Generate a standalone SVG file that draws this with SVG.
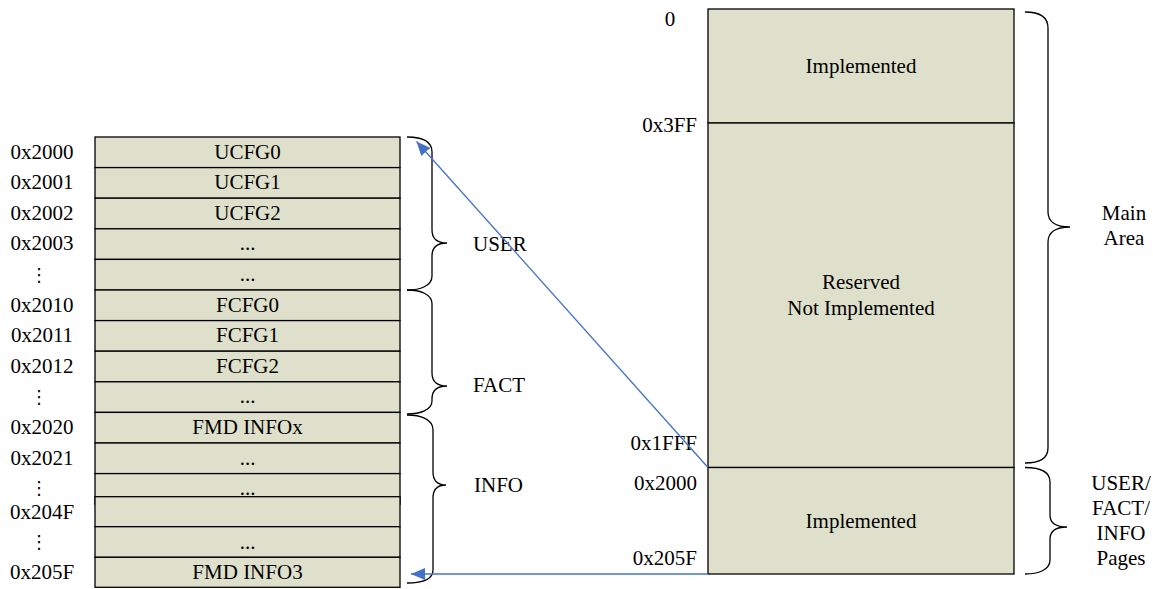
<svg xmlns="http://www.w3.org/2000/svg" width="1153" height="589" viewBox="0 0 1153 589">
<style>
.cell{fill:#DEE0CB;stroke:#000;stroke-width:1.3}
.t{font-family:"Liberation Serif","Times New Roman",serif;font-size:21px;fill:#000}
.m{text-anchor:middle}
.e{text-anchor:end}
.vd{font-family:"DejaVu Serif","DejaVu Sans",serif;font-size:18px;fill:#000;text-anchor:middle}
.brace{fill:none;stroke:#000;stroke-width:1.3}
.conn{fill:none;stroke:#4472C4;stroke-width:1.3}
</style>
<defs>
<marker id="ah" markerUnits="userSpaceOnUse" markerWidth="16" markerHeight="12" refX="14" refY="6" orient="auto">
<path d="M0,0 L14,6 L0,12 Z" fill="#4472C4"/>
</marker>
</defs>

<!-- Left table -->
<g id="row-ucfg0"><rect class="cell" x="95" y="137" width="305" height="30.6"/><text class="t m" x="247.5" y="158.5">UCFG0</text><text class="t m" x="42" y="158.5">0x2000</text></g>
<g id="row-ucfg1"><rect class="cell" x="95" y="167.6" width="305" height="30.6"/><text class="t m" x="247.5" y="189.1">UCFG1</text><text class="t m" x="42" y="189.1">0x2001</text></g>
<g id="row-ucfg2"><rect class="cell" x="95" y="198.2" width="305" height="30.6"/><text class="t m" x="247.5" y="219.7">UCFG2</text><text class="t m" x="42" y="219.7">0x2002</text></g>
<g id="row-user-a"><rect class="cell" x="95" y="228.8" width="305" height="30.6"/><text class="t m" x="247.5" y="250.3">...</text><text class="t m" x="42" y="250.3">0x2003</text></g>
<g id="row-user-b"><rect class="cell" x="95" y="259.4" width="305" height="30.6"/><text class="t m" x="247.5" y="280.9">...</text><text class="vd" x="39" y="281">⋮</text></g>
<g id="row-fcfg0"><rect class="cell" x="95" y="290" width="305" height="30.6"/><text class="t m" x="247.5" y="311.5">FCFG0</text><text class="t m" x="42" y="311.5">0x2010</text></g>
<g id="row-fcfg1"><rect class="cell" x="95" y="320.6" width="305" height="30.6"/><text class="t m" x="247.5" y="342.1">FCFG1</text><text class="t m" x="42" y="342.1">0x2011</text></g>
<g id="row-fcfg2"><rect class="cell" x="95" y="351.2" width="305" height="30.6"/><text class="t m" x="247.5" y="372.7">FCFG2</text><text class="t m" x="42" y="372.7">0x2012</text></g>
<g id="row-fact-a"><rect class="cell" x="95" y="381.8" width="305" height="30.6"/><text class="t m" x="247.5" y="403.3">...</text><text class="vd" x="39" y="403">⋮</text></g>
<g id="row-infox"><rect class="cell" x="95" y="412.4" width="305" height="30.6"/><text class="t m" x="247.5" y="433.9">FMD INFOx</text><text class="t m" x="42" y="433.9">0x2020</text></g>
<g id="row-info-a"><rect class="cell" x="95" y="443" width="305" height="30.6"/><text class="t m" x="247.5" y="464.5">...</text><text class="t m" x="42" y="464.5">0x2021</text></g>
<g id="row-info-b"><rect class="cell" x="95" y="473.6" width="305" height="30.6"/><text class="t m" x="247.5" y="495">...</text><text class="vd" x="39" y="494">⋮</text></g>
<g id="row-info-c"><rect class="cell" x="95" y="496.7" width="305" height="30"/><text class="t m" x="42" y="518.5">0x204F</text></g>
<g id="row-info-d"><rect class="cell" x="95" y="526.7" width="305" height="30.6"/><text class="t m" x="247.5" y="548.5">...</text><text class="vd" x="39" y="548">⋮</text></g>
<g id="row-info3"><rect class="cell" x="95" y="557.3" width="305" height="30"/><text class="t m" x="247.5" y="578.5">FMD INFO3</text><text class="t m" x="42" y="578.5">0x205F</text></g>

<!-- Left braces and labels -->
<g id="brace-user">
<path class="brace" d="M407,137 C420,137 432,140 432,152 L432,230 C432,238 436,243 447,243 C436,243 432,248 432,256 L432,276 C432,286 420,290 407,290"/>
<text class="t" x="473" y="250.5">USER</text>
</g>
<g id="brace-fact">
<path class="brace" d="M407,290 C420,290 432,294 432,304 L432,373 C432,381 436,386 447,386 C436,386 432,391 432,399 L432,401 C432,410 420,414 407,414"/>
<text class="t" x="473" y="392">FACT</text>
</g>
<g id="brace-info">
<path class="brace" d="M407,415 C420,415 433,419 433,430 L433,472 C433,480 437,485 446,485 C437,485 433,490 433,498 L433,570 C433,580 420,583 407,583"/>
<text class="t" x="474" y="491.5">INFO</text>
</g>

<!-- Right memory map -->
<g id="main-implemented"><rect class="cell" x="708" y="9" width="306" height="114"/><text class="t m" x="861" y="73">Implemented</text></g>
<g id="main-reserved"><rect class="cell" x="708" y="123" width="306" height="344.5"/><text class="t m" x="861" y="289">Reserved</text><text class="t m" x="861" y="315">Not Implemented</text></g>
<g id="pages-implemented"><rect class="cell" x="708" y="467.5" width="306" height="106.5"/><text class="t m" x="861" y="528">Implemented</text></g>

<g id="addr-labels">
<text class="t m" x="670" y="26">0</text>
<text class="t e" x="697" y="132">0x3FF</text>
<text class="t e" x="697" y="450">0x1FFF</text>
<text class="t e" x="697" y="490">0x2000</text>
<text class="t e" x="697" y="565">0x205F</text>
</g>

<g id="brace-main">
<path class="brace" d="M1025,12 C1038,12 1048,16 1048,28 L1048,212 C1048,221 1055,227 1070,227 C1055,227 1048,233 1048,242 L1048,448 C1048,459 1038,463 1025,463"/>
<text class="t m" x="1124" y="220">Main</text>
<text class="t m" x="1124" y="245">Area</text>
</g>
<g id="brace-pages">
<path class="brace" d="M1025,467.5 C1038,467.5 1050,471 1050,482 L1050,515 C1050,522 1055,527 1067,527 C1055,527 1050,532 1050,539 L1050,560 C1050,570 1038,574 1025,574"/>
<text class="t m" x="1121" y="489.5">USER/</text>
<text class="t m" x="1121" y="514.5">FACT/</text>
<text class="t m" x="1121" y="539.5">INFO</text>
<text class="t m" x="1121" y="564.5">Pages</text>
</g>

<!-- Connectors -->
<g id="connectors">
<line class="conn" x1="708" y1="467.5" x2="416.5" y2="141.5" marker-end="url(#ah)"/>
<line class="conn" x1="708" y1="574" x2="411" y2="574" marker-end="url(#ah)"/>
</g>
</svg>
